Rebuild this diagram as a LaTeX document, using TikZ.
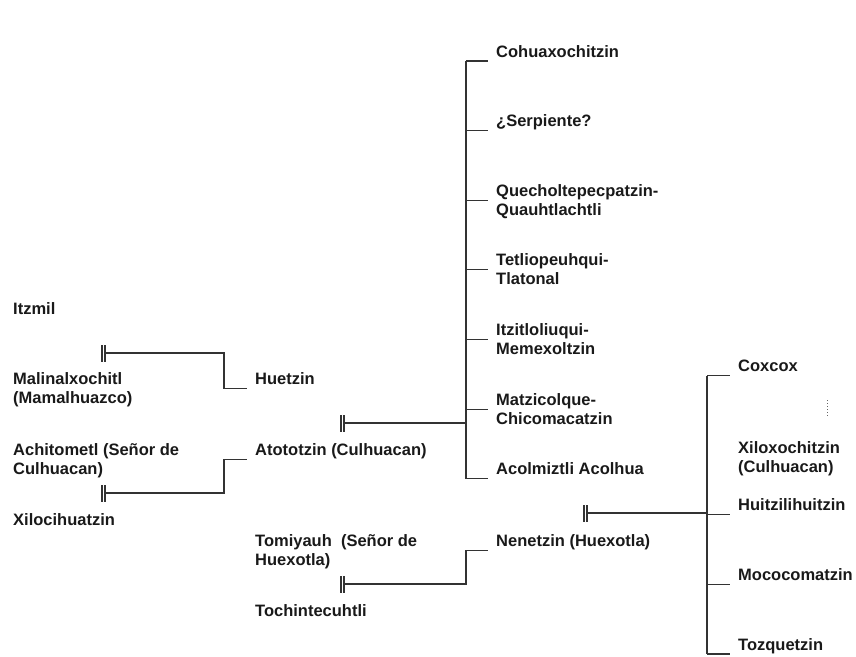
\documentclass[tikz,border=0pt]{standalone}
\usepackage{fontspec}
\setmainfont{Liberation Sans}
\begin{document}
\begin{tikzpicture}[x=1pt,y=-1pt,
  person/.style={anchor=base west,inner sep=0pt,align=left,text=black!90,
    font=\bfseries\fontsize{16.5}{18.5}\selectfont},
  rule/.style={draw=black!80,line width=1.1pt},
  wed/.pic={\draw[rule] (-3pt,-8.5pt) -- (-3pt,8.5pt) (0pt,-8.5pt) -- (0pt,8.5pt);}]
\useasboundingbox (0,0) rectangle (856,656);

% first generation (two-line names are placed by their last baseline)
\node[person] (itzmil) at (13,314.5) {Itzmil};
\node[person] (malinal) at (13,403) {Malinalxochitl\\(Mamalhuazco)};
\node[person] (achito) at (13,474) {Achitometl (Señor de\\Culhuacan)};
\node[person] (xiloci) at (13,525) {Xilocihuatzin};

% second generation
\node[person] (huetzin) at (255,384.5) {Huetzin};
\node[person] (atotot) at (255,455.5) {Atototzin (Culhuacan)};
\node[person] (tomiy) at (255,565) {Tomiyauh\ \ (Señor de\\Huexotla)};
\node[person] (tochin) at (255,616.5) {Tochintecuhtli};

% children of Huetzin and Atototzin
\node[person] (cohua) at (496,57) {Cohuaxochitzin};
\node[person] (serp) at (496,126.5) {¿Serpiente?};
\node[person] (quech) at (496,215) {Quecholtepecpatzin-\\Quauhtlachtli};
\node[person] (tetli) at (496,284) {Tetliopeuhqui-\\Tlatonal};
\node[person] (itzit) at (496,354) {Itzitloliuqui-\\Memexoltzin};
\node[person] (matzi) at (496,424) {Matzicolque-\\Chicomacatzin};
\node[person] (acolm) at (496,474.5) {Acolmiztli Acolhua};
\node[person] (nenet) at (496,546.5) {Nenetzin (Huexotla)};

% children of Nenetzin
\node[person] (coxcox) at (738,371.5) {Coxcox};
\node[person] (xiloxo) at (738,472) {Xiloxochitzin\\(Culhuacan)};
\node[person] (huitz) at (738,510.5) {Huitzilihuitzin};
\node[person] (mococ) at (738,580.5) {Mococomatzin};
\node[person] (tozq) at (738,650) {Tozquetzin};

% entry points of the descent lines, just under the first line of each name
\foreach \n in {huetzin,atotot,cohua,serp,acolm,nenet,coxcox,huitz,mococ,tozq}
  \path ([xshift=-8pt,yshift=-4pt]\n.base west) coordinate (\n-in);
\foreach \n in {quech,tetli,itzit,matzi}
  \path ([xshift=-8pt,yshift=14.5pt]\n.base west) coordinate (\n-in);

% spine positions
\coordinate (spA) at (224,0);
\coordinate (spB) at (466,0);
\coordinate (spC) at (707,0);

% marriages
\coordinate (u1) at (105,353);
\coordinate (u2) at (105,493);
\coordinate (u3) at (344,423);
\coordinate (u4) at (344,584);
\coordinate (u5) at (587,513);
\foreach \u in {u1,u2,u3,u4,u5} \pic at (\u) {wed};

% Itzmil + Malinalxochitl -> Huetzin
\draw[rule] (u1) -- (u1 -| spA) |- (huetzin-in);
% Achitometl + Xilocihuatzin -> Atototzin
\draw[rule] (u2) -- (u2 -| spA) |- (atotot-in);
% Huetzin + Atototzin -> seven children
\draw[rule] (u3) -- (u3 -| spB);
\draw[rule] (cohua-in -| spB) -- (acolm-in -| spB);
\foreach \c in {cohua,serp,quech,tetli,itzit,matzi,acolm}
  \draw[rule] (\c-in -| spB) -- (\c-in);
% Tomiyauh + Tochintecuhtli -> Nenetzin
\draw[rule] (u4) -- (u4 -| spB) |- (nenet-in);
% Nenetzin + Matzicolque -> children
\draw[rule] (u5) -- (u5 -| spC);
\draw[rule] (coxcox-in -| spC) -- (tozq-in -| spC);
\foreach \c in {coxcox,huitz,mococ,tozq}
  \draw[rule] (\c-in -| spC) -- (\c-in);

% small dotted mark above Xiloxochitzin
\draw[black!60,line width=1pt,dotted] (827,400) -- (827,417);
\end{tikzpicture}
\end{document}
